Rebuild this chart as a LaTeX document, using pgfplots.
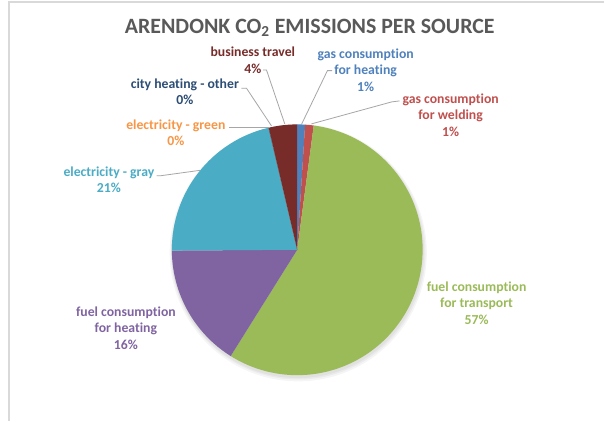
\documentclass[border=0pt]{standalone}
\usepackage{pgfplots}
\pgfplotsset{compat=1.18}
\usepackage{fontspec}
\setmainfont{Carlito}[Ligatures=NoCommon]
\definecolor{cBlue}{HTML}{4F81BD}
\definecolor{cRed}{HTML}{C0504D}
\definecolor{cGreen}{HTML}{9BBB59}
\definecolor{cPurple}{HTML}{8064A2}
\definecolor{cTeal}{HTML}{4BACC6}
\definecolor{cOrange}{HTML}{F79646}
\definecolor{cNavy}{HTML}{2C4D75}
\definecolor{cDarkRed}{HTML}{772C2A}
\definecolor{cTitle}{HTML}{595959}
\definecolor{cLead}{HTML}{A6A6A6}
\definecolor{cFrame}{HTML}{D9D9D9}
% pie centre (pixel units) and radius
\def\cx{297.5}
\def\cy{171}
\def\R{94.125pt}
\xdef\cum{0}
\newcommand\slice[2]{%
  \pgfmathsetmacro\sa{90-3.6*\cum}%
  \pgfmathsetmacro\newcum{\cum+#1}%
  \pgfmathsetmacro\ea{90-3.6*\newcum}%
  \edef\tmp{\noexpand\fill[#2] (axis cs:\cx,\cy) -- ++(\sa:\R) arc[start angle=\sa, end angle=\ea, radius=\R] -- cycle;}%
  \tmp
  \xdef\cum{\newcum}}
\newcommand\lab{\fontsize{10.3}{12.5}\selectfont\bfseries}
\begin{document}
\begin{tikzpicture}
\begin{axis}[
  x=0.75pt, y=0.75pt,
  xmin=0, xmax=605, ymin=0, ymax=421,
  hide axis, clip=false, scale only axis,
]
\path[fill=white] (axis cs:0,0) rectangle (axis cs:605,421);
\draw[cFrame, line width=0.8pt] (axis cs:9,0) -- (axis cs:9,419) -- (axis cs:605,419);
% title
\node[cTitle, font=\fontsize{16.4}{18}\selectfont\bfseries, anchor=base] at (axis cs:310,387.7)
  {ARENDONK CO\textsubscript{2} EMISSIONS PER SOURCE};
% soft shadow
\fill[black, opacity=0.04] (axis cs:298.5,168) circle[radius=96.5pt];
\fill[black, opacity=0.04] (axis cs:298.5,168.5) circle[radius=95.5pt];
\fill[black, opacity=0.04] (axis cs:298,169) circle[radius=94.8pt];
% slices (percent shares, clockwise from 12 o'clock)
\slice{1.0}{cBlue}      % gas consumption for heating
\slice{1.1}{cRed}       % gas consumption for welding
\slice{56.8}{cGreen}    % fuel consumption for transport
\slice{16.0}{cPurple}   % fuel consumption for heating
\slice{21.4}{cTeal}     % electricity - gray
\slice{0.0}{cOrange}    % electricity - green
\slice{0.05}{cNavy}     % city heating - other
\slice{3.65}{cDarkRed}  % business travel
% leader lines
\draw[cLead, line width=0.6pt] (axis cs:263.3,351) -- (axis cs:266.7,351) -- (axis cs:285,297);
\draw[cLead, line width=0.6pt] (axis cs:332.3,350.3) -- (axis cs:327.7,350.3) -- (axis cs:302,297);
\draw[cLead, line width=0.6pt] (axis cs:400,320) -- (axis cs:392,319) -- (axis cs:311.7,297);
\draw[cLead, line width=0.6pt] (axis cs:241.7,332.7) -- (axis cs:246.7,332.7) -- (axis cs:271.7,295);
\draw[cLead, line width=0.6pt] (axis cs:229,293.5) -- (axis cs:270,293.5);
\draw[cLead, line width=0.6pt] (axis cs:156.7,245) -- (axis cs:160,245) -- (axis cs:200,250.5);
% labels
\node[cDarkRed, align=center, inner sep=0pt, font=\lab] at (axis cs:253,361) {business travel\\4\%};
\node[cBlue, align=center, inner sep=0pt, font=\lab] at (axis cs:366,351) {gas consumption\\for heating\\1\%};
\node[cNavy, align=center, inner sep=0pt, font=\lab] at (axis cs:185,329.3) {city heating - other\\0\%};
\node[cRed, align=center, inner sep=0pt, font=\lab] at (axis cs:451,306) {gas consumption\\for welding\\1\%};
\node[cOrange, align=center, inner sep=0pt, font=\lab] at (axis cs:176,288) {electricity - green\\0\%};
\node[cTeal, align=center, inner sep=0pt, font=\lab] at (axis cs:109,241) {electricity - gray\\21\%};
\node[cPurple, align=center, inner sep=0pt, font=\lab] at (axis cs:126,92.7) {fuel consumption\\for heating\\16\%};
\node[cGreen, align=center, inner sep=0pt, font=\lab] at (axis cs:477,117.5) {fuel consumption\\for transport\\57\%};
\end{axis}
\end{tikzpicture}
\end{document}
